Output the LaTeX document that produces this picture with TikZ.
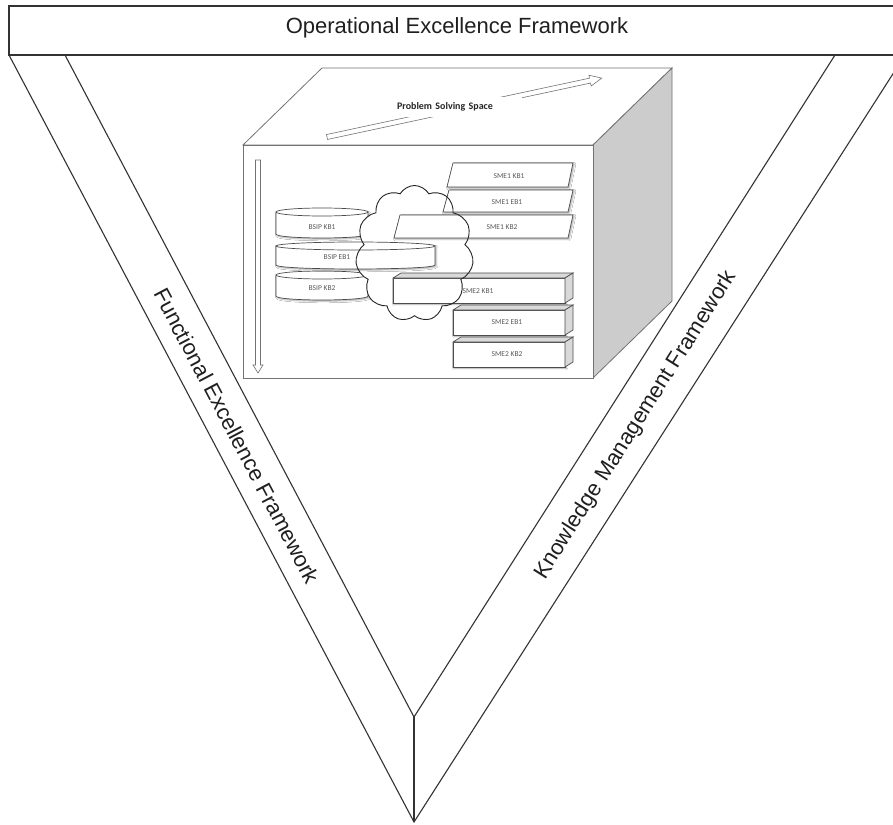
\documentclass[tikz,border=0pt]{standalone}
\usepackage{fontspec}
\setmainfont{Liberation Sans}
\newfontfamily\smallface{Carlito}
\usetikzlibrary{shapes.symbols,shadows.blur}

% flat cylinder (drum): centre x, top y, x radius, bottom y
\newcommand\drumshape[4]{%
  \draw[item] ({#1-#3},{#2+4}) -- ({#1-#3},{#4-4})
    .. controls ({#1-#3},{#4+1.3}) and ({#1+#3},{#4+1.3}) .. ({#1+#3},{#4-4})
    -- ({#1+#3},{#2+4}) -- cycle;
  \draw[itemflat] (#1,{#2+4}) ellipse [x radius=#3, y radius=4];
}
% slanted slab: bottom-left x, bottom-right x, top y, bottom y
\newcommand\slabshape[4]{%
  \draw[item] (#1,#4) -- ({#1+6},#3) -- ({#2+5},#3) -- (#2,#4) -- cycle;
}
% small 3-d block: front face corners
\newcommand\blockshape[4]{%
  \draw[item] (#1,#2) rectangle (#3,#4);
  \draw[itemside] (#1,#2) -- ({#1+8},{#2-5}) -- ({#3+8},{#2-5}) -- (#3,#2) -- cycle;
  \draw[itemside] (#3,#2) -- ({#3+8},{#2-5}) -- ({#3+8},{#4-5}) -- (#3,#4) -- cycle;
}

\begin{document}
\begin{tikzpicture}[x=1pt,y=-1pt,
  frame/.style={draw=black!80, line width=1.1pt, line join=miter},
  bandlabel/.style={font=\fontsize{22}{26}\selectfont, text=black!88, inner sep=0pt},
  cubeline/.style={draw=black!55, line width=0.8pt},
  item/.style={draw=black!70, line width=0.7pt, fill=white,
    blur shadow={shadow xshift=1.2pt, shadow yshift=-1.2pt, shadow blur radius=1.6pt, shadow opacity=35}},
  itemflat/.style={draw=black!70, line width=0.7pt, fill=white},
  itemside/.style={draw=black!70, line width=0.7pt, fill=black!15},
  tag/.style={font=\smallface\fontsize{7.5}{9}\selectfont, text=black!65, inner sep=0pt},
  hollow/.style={draw=black!55, line width=0.6pt, fill=white},
  puffy/.style={cloud, cloud puffs=11, cloud puff arc=120, cloud ignores aspect,
    minimum width=118pt, minimum height=136pt, inner sep=0pt},
]
\useasboundingbox (0,0) rectangle (893,824);
\clip (0,0) rectangle (893,824);
\fill[white] (0,0) rectangle (893,824);

% outer frame: title bar and the two bands of the V
\coordinate (barTL) at (9,6);
\coordinate (barBR) at (905,55);
\coordinate (oL) at (9,55);
\coordinate (iL) at (65,55);
\coordinate (iR) at (835,55);
\coordinate (oR) at (905,55);
\coordinate (vIn) at (414,717);
\coordinate (vOut) at (414,822);

\draw[frame] (barTL) rectangle (barBR);
\node[bandlabel] (ope) at (457,28) {Operational Excellence Framework};
\draw[frame] (oL) -- (vOut) -- (oR);
\draw[frame] (iL) -- (vIn) -- (iR);
\draw[frame] (vIn) -- (vOut);

\node[bandlabel, rotate=-62.2] (fef) at (237,436) {Functional Excellence Framework};
\node[bandlabel, rotate=57.8] (kmf) at (636,425) {Knowledge Management Framework};

% the problem solving cube
\draw[cubeline, fill=white] (243,145) -- (322,68) -- (672,68) -- (593,145) -- cycle;
\draw[cubeline, fill=black!20] (593,145) -- (672,68) -- (672,301) -- (593,378) -- cycle;
\draw[cubeline, fill=white] (243,145) rectangle (593,378);

% hollow arrow across the top face
\begin{scope}[shift={(327,137)}, rotate=12.1]
  \draw[hollow] (0,-2.5) -- (269,-2.5) -- (269,-5.5) -- (281,0) -- (269,5.5) -- (269,2.5) -- (0,2.5) -- cycle;
\end{scope}
\node[fill=white, minimum width=130pt, minimum height=20pt, text width=120pt, inner xsep=5pt,
  align=left, font=\smallface\bfseries\fontsize{10}{12}\selectfont, text=black!85] (pss) at (457,107) {Problem Solving Space};

% hollow arrow down the front face
\begin{scope}[shift={(258,160)}]
  \draw[hollow] (-2.5,0) -- (-2.5,205) -- (-5,205) -- (0,213) -- (5,205) -- (2.5,205) -- (2.5,0) -- cycle;
\end{scope}

% BSIP drums behind the cloud
\drumshape{322}{208}{46}{238}
\drumshape{322}{271}{46}{300}

% cloud body
\node[puffy, fill=white] (cloudbg) at (414.5,253.5) {};

% items in front of the cloud body
\drumshape{355.5}{242}{79.5}{269}
\slabshape{447}{568}{163}{187}
\slabshape{443}{568}{190}{212}
\slabshape{394}{568}{215}{238}
\blockshape{393}{278}{565}{303}
\blockshape{453}{310}{565}{335}
\blockshape{453}{342}{565}{367}

% cloud outline on top
\node[puffy, draw=black!85, line width=0.9pt] (cloudline) at (414.5,253.5) {};

% item labels
\node[tag] (bkb1) at (322,227) {BSIP KB1};
\node[tag] (beb1) at (337,257) {BSIP EB1};
\node[tag] (bkb2) at (322,288) {BSIP KB2};
\node[tag] (s1kb1) at (509,176) {SME1 KB1};
\node[tag] (s1eb1) at (507,202) {SME1 EB1};
\node[tag] (s1kb2) at (502,227) {SME1 KB2};
\node[tag] (s2kb1) at (478,291) {SME2 KB1};
\node[tag] (s2eb1) at (507,322) {SME2 EB1};
\node[tag] (s2kb2) at (507,354) {SME2 KB2};
\end{tikzpicture}
\end{document}
